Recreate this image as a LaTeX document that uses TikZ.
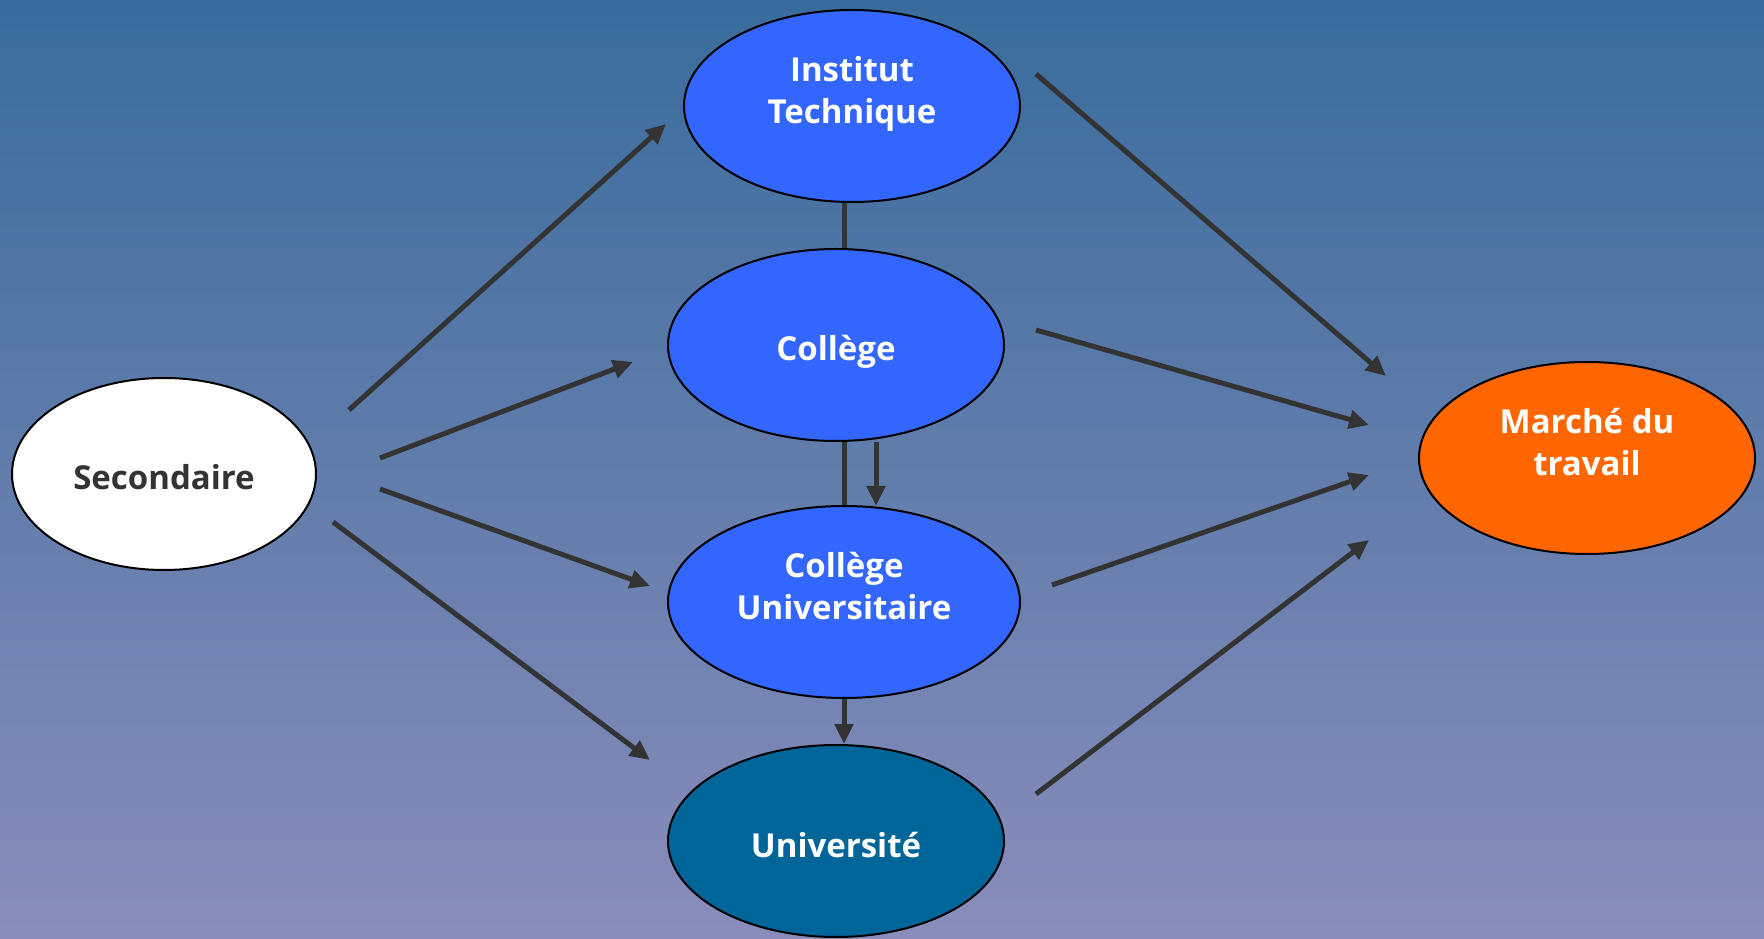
\documentclass[tikz,border=0pt]{standalone}
\usepackage{fontspec}
\setmainfont{Open Sans}
\usetikzlibrary{shapes.geometric,arrows.meta}
\definecolor{bgtop}{RGB}{56,108,156}
\definecolor{bgbot}{RGB}{138,141,187}
\definecolor{nodeblue}{RGB}{51,102,255}
\definecolor{univblue}{RGB}{0,102,153}
\definecolor{marcheor}{RGB}{255,102,0}
\definecolor{arrowgray}{RGB}{51,51,51}
\newcommand{\oneline}[1]{\raisebox{-16pt}[0pt][0pt]{#1}}
\tikzset{
  oval/.style={ellipse, draw=black, line width=2pt, inner sep=0pt,
    minimum width=336pt, minimum height=192pt, text=white, align=center,
    font=\fontsize{33}{42}\selectfont\bfseries},
  flow/.style={draw=arrowgray, line width=5pt, -{Triangle[length=20pt,width=18pt]}},
  link/.style={draw=arrowgray, line width=5pt},
}
\begin{document}
\begin{tikzpicture}[x=1pt,y=1pt]
\shade[top color=bgtop, bottom color=bgbot] (0,0) rectangle (1764,938);
\useasboundingbox (0,0) rectangle (1764,938);

\node[oval, fill=nodeblue] (IT) at (852,832) {\raisebox{60pt}{\begin{tabular}{@{}c@{}}Institut\\Technique\end{tabular}}};
\node[oval, fill=nodeblue] (C) at (836,593) {\oneline{Collège}};
\node[oval, fill=nodeblue, minimum width=352pt] (CU) at (844,336) {\raisebox{60pt}{\begin{tabular}{@{}c@{}}Collège\\Universitaire\end{tabular}}};
\node[oval, fill=univblue] (U) at (836,97) {\oneline{Université}};
\node[oval, fill=white, text=arrowgray, minimum width=304pt] (S) at (164,464) {\oneline{Secondaire}};
\node[oval, fill=marcheor] (M) at (1587,480) {\raisebox{60pt}{\begin{tabular}{@{}c@{}}Marché du\\travail\end{tabular}}};

% free arrow ends
\coordinate (s1) at (349,528); \coordinate (e1) at (666,814);
\coordinate (s2) at (380,480); \coordinate (e2) at (633,576);
\coordinate (s3) at (380,449); \coordinate (e3) at (650,352);
\coordinate (s4) at (333,416); \coordinate (e4) at (650,178);
\coordinate (s5) at (1036,864); \coordinate (e5) at (1386,562);
\coordinate (s6) at (1036,608); \coordinate (e6) at (1369,513);
\coordinate (s7) at (1052,353); \coordinate (e7) at (1369,463);
\coordinate (s8) at (1036,144); \coordinate (e8) at (1369,398);
\coordinate (d1) at (876,496); \coordinate (d2) at (876,432);

\draw[flow] (s1) -- (e1);
\draw[flow] (s2) -- (e2);
\draw[flow] (s3) -- (e3);
\draw[flow] (s4) -- (e4);
\draw[flow] (s5) -- (e5);
\draw[flow] (s6) -- (e6);
\draw[flow] (s7) -- (e7);
\draw[flow] (s8) -- (e8);

\draw[link] (IT.south -| CU.center) -- (C.north -| CU.center);
\draw[link] (C.south -| CU.center) -- (CU.north);
\draw[flow] (d1) -- (d2);
\draw[flow] (CU.south) -- (CU.south |- U.north);
\end{tikzpicture}
\end{document}
